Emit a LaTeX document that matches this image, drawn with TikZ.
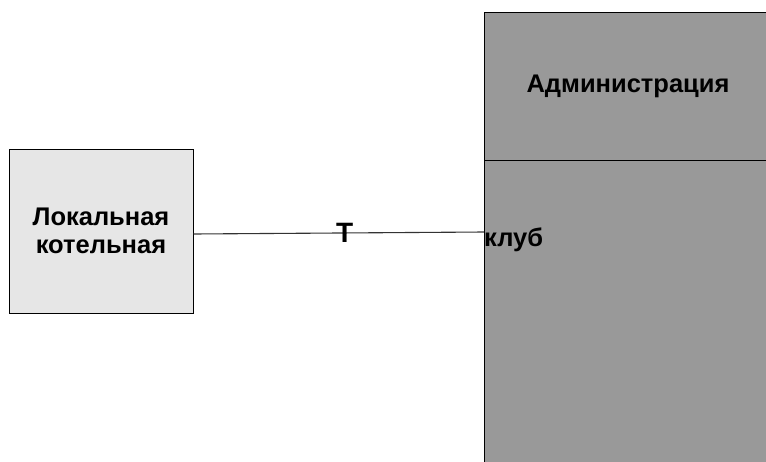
\documentclass[tikz,border=0pt]{standalone}
\usepackage{fontspec}
\setmainfont{Liberation Sans}
\usetikzlibrary{positioning}
\definecolor{boilergray}{HTML}{E6E6E6}
\definecolor{blockgray}{HTML}{999999}
\begin{document}
\begin{tikzpicture}[x=1pt,y=-1pt,
            room/.style={draw, rectangle, line width=1pt, inner sep=0pt, align=center,
              font=\fontsize{25.5}{28}\selectfont\bfseries},
            lbl/.style={inner sep=0pt, font=\fontsize{25.5}{28}\selectfont\bfseries}]
            \useasboundingbox (0,0) rectangle (766,461);
            \clip (0,0) rectangle (766,461);
            \draw (101,231) node[room, fill=boilergray, minimum width=184pt, minimum height=164pt] (boiler) {Локальная\\котельная};
            \draw (628,86) node[room, fill=blockgray, minimum width=288pt, minimum height=148pt] (admin) {Администрация};
            \draw (628,315.5) node[room, fill=blockgray, minimum width=288pt, minimum height=311pt] (club) {};
            \coordinate (clubin) at (484,232);
            \node[lbl, right=0pt of clubin, yshift=-8pt] (clublabel) {клуб};
            \path[draw=black!80, line width=1.1pt]
            ([yshift=-3pt]boiler.east) -- node[lbl, pos=0.52, font=\fontsize{28}{30}\selectfont\bfseries] (tlabel) {Т} (clubin)
            ;
        \end{tikzpicture}
\end{document}
